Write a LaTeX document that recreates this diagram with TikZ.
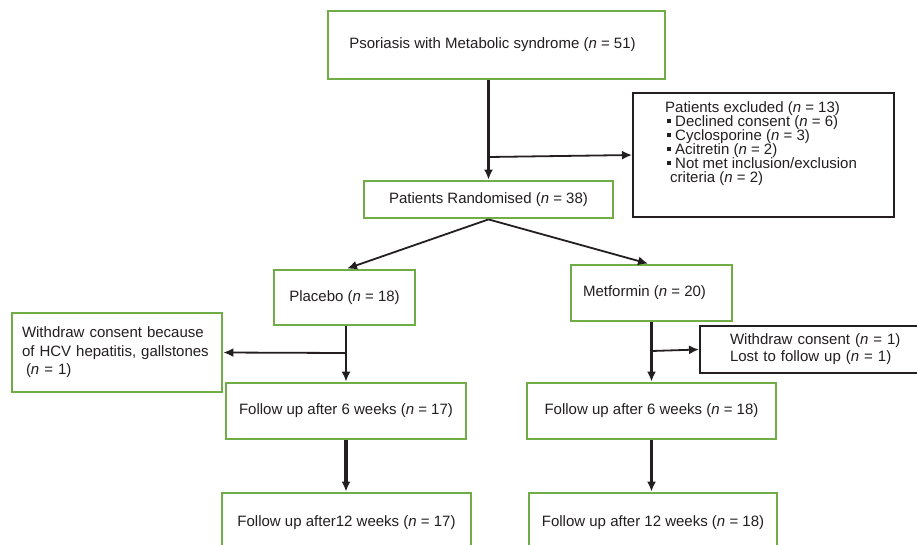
\documentclass[tikz,border=0pt]{standalone}
\usepackage{fontspec}
\setmainfont{Liberation Sans}
\usetikzlibrary{arrows.meta}
\definecolor{boxgreen}{RGB}{112,173,71}
\definecolor{ink}{RGB}{35,31,32}
\newcommand\bulsq{\hspace*{2pt}\rule[3.5pt]{3.5pt}{3.5pt}\hspace*{4.5pt}}
\begin{document}
\begin{tikzpicture}[x=1pt,y=-1pt,
  gbox/.style={draw=boxgreen, line width=2.8pt, fill=white, inner sep=0pt, align=center, text=ink, font=\fontsize{15}{18}\selectfont},
  kbox/.style={draw=ink, line width=2pt, fill=white, inner sep=0pt, text=ink},
  txt/.style={inner sep=0pt, align=left, text=ink},
  arr/.style={draw=ink, line width=1.8pt, -{Latex[length=10pt 0 0,width=9pt 0 0]}},
  thickarr/.style={arr, line width=3.2pt},
]
\clip (0,0) rectangle (917,544);
\fill[white] (0,0) rectangle (917,544);

\node[gbox, minimum width=337pt, minimum height=68pt] (top) at (496.5,45) {Psoriasis with Metabolic syndrome (\textit{n} = 51)\hspace*{8pt}};
\node[gbox, minimum width=249pt, minimum height=37pt] (rand) at (488.5,199.5) {Patients Randomised (\textit{n} = 38)};

\node[kbox, minimum width=261pt, minimum height=124pt] (excl) at (763.5,155) {};
\node[txt, anchor=north west, font=\fontsize{15}{14}\selectfont] (excltxt) at (665,101) {Patients excluded (\textit{n} = 13)\\
\bulsq Declined consent (\textit{n} = 6)\\
\bulsq Cyclosporine (\textit{n} = 3)\\
\bulsq Acitretin (\textit{n} = 2)\\
\bulsq Not met inclusion/exclusion\\
\hspace*{5pt}criteria (\textit{n} = 2)};

\node[gbox, minimum width=141pt, minimum height=55pt] (plac) at (344.5,297.5) {Placebo (\textit{n} = 18)};
\node[gbox, minimum width=161pt, minimum height=56pt] (metf) at (651.5,293) {Metformin (\textit{n} = 20)\hspace*{14pt}};

\node[gbox, minimum width=210pt, minimum height=79pt, align=left, text width=190pt, inner xsep=10pt, font=\fontsize{15}{18.5}\selectfont] (wleft) at (117,352.5) {Withdraw consent because\\ of HCV hepatitis, gallstones\\ \hspace*{4pt}(\textit{n} = 1)};
\node[kbox, anchor=west, minimum height=47pt, align=left, text width=220pt, inner xsep=30pt, font=\fontsize{15}{17}\selectfont] (wright) at (699,349.5) {Withdraw consent (\textit{n} = 1)\\Lost to follow up (\textit{n} = 1)};

\node[gbox, minimum width=240pt, minimum height=56pt] (f6L) at (346,411) {Follow up after 6 weeks (\textit{n} = 17)};
\node[gbox, minimum width=249pt, minimum height=56pt] (f6R) at (651.5,411) {Follow up after 6 weeks (\textit{n} = 18)};
\node[gbox, minimum width=249pt, minimum height=60pt] (f12L) at (346.5,523) {Follow up after12 weeks (\textit{n} = 17)};
\node[gbox, minimum width=248pt, minimum height=60pt] (f12R) at (653,523) {Follow up after 12 weeks (\textit{n} = 18)};

\coordinate (b1) at (488.5,157);
\coordinate (b2) at (346,353);
\coordinate (b3) at (651.5,351);

\draw[thickarr] (rand.north |- top.south) -- (rand.north);
\draw[arr] (b1) -- (excl.west);
\draw[arr] (rand.south) -- ([xshift=2.5pt]plac.north);
\draw[arr] (rand.south) -- ([xshift=-3.5pt]metf.north);
\draw[arr] (plac.south -| f6L.north) -- (f6L.north);
\draw[arr] (b2) -- (wleft.east);
\draw[thickarr] (metf.south -| f6R.north) -- (f6R.north);
\draw[arr] (b3) -- (wright.west);
\draw[thickarr] (f6L.south) -- (f6L.south |- f12L.north);
\draw[arr, line width=2.4pt] (f6R.south) -- (f6R.south |- f12R.north);
\end{tikzpicture}
\end{document}
